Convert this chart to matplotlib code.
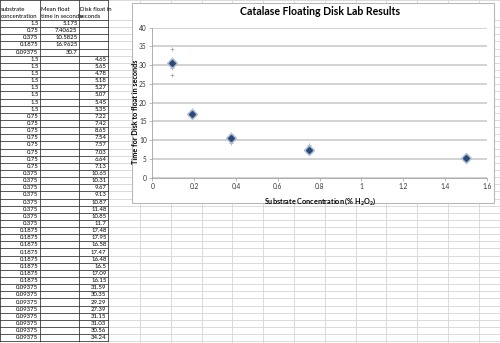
import numpy as np
import matplotlib.pyplot as plt
from matplotlib.patches import Rectangle

plt.rcParams['font.family'] = ['Lato', 'DejaVu Sans']
plt.rcParams['mathtext.default'] = 'regular'

# spreadsheet data
conc_levels = [1.5, 0.75, 0.375, 0.1875, 0.09375]
mean_times = [5.175, 7.40625, 10.5825, 16.9625, 30.7]
mean_labels = ['5.175', '7.40625', '10.5825', '16.9625', '30.7']

disk_conc = [1.5] * 8 + [0.75] * 8 + [0.375] * 8 + [0.1875] * 8 + [0.09375] * 8
disk_times = [4.65, 5.65, 4.78, 5.18, 5.27, 5.07, 5.45, 5.35,
              7.22, 7.42, 8.65, 7.54, 7.57, 7.03, 6.64, 7.13,
              10.65, 10.31, 9.67, 9.13, 10.87, 11.48, 10.85, 11.7,
              17.48, 17.95, 16.58, 17.47, 16.48, 16.5, 17.09, 16.15,
              31.59, 30.35, 29.29, 27.39, 31.15, 31.03, 30.56, 34.24]
headers = [['substrate', 'concentration'],
           ['Mean float', 'time in seconds'],
           ['Disk float in', 'seconds']]

W, H = 500, 343
fig = plt.figure(figsize=(W / 100, H / 100), dpi=100)

# ---- spreadsheet background (pixel coords)
bg = fig.add_axes([0, 0, 1, 1], zorder=0)
bg.set_xlim(0, W)
bg.set_ylim(H, 0)
bg.axis('off')

col_edges = [0, 40, 79, 108] + list(np.arange(140, W + 31, 30.8))
row_h = 7.14
head_h = 20
n_rows = len(conc_levels) + len(disk_times)
row_edges = [0, head_h] + [head_h + row_h * (k + 1) for k in range(n_rows)]

grid_col = '#d4d4d4'
for y in row_edges:
    bg.plot([0, W], [y, y], color=grid_col, lw=0.6)
for x in col_edges:
    bg.plot([x, x], [0, H], color=grid_col, lw=0.6)

# dark borders round the filled cells
tbl_right = col_edges[3]
for y in row_edges:
    bg.plot([0, tbl_right], [y, y], color='#222222', lw=0.5)
for x in col_edges[:4]:
    bg.plot([x, x], [0, row_edges[-1]], color='#222222', lw=0.5)

fs = 4.3
for j, lines in enumerate(headers):
    bg.text(col_edges[j] + 1, 9.5, lines[0], fontsize=fs, va='center', ha='left')
    bg.text(col_edges[j] + 1, 16, lines[1], fontsize=fs, va='center', ha='left')

def cell_y(i):
    return head_h + row_h * i + row_h / 2

for i, (c, m) in enumerate(zip(conc_levels, mean_labels)):
    bg.text(col_edges[1] - 1.5, cell_y(i), f'{c:g}', fontsize=fs, va='center', ha='right')
    bg.text(col_edges[2] - 1.5, cell_y(i), m, fontsize=fs, va='center', ha='right')
for k, (c, t) in enumerate(zip(disk_conc, disk_times)):
    i = k + len(conc_levels)
    bg.text(col_edges[1] - 1.5, cell_y(i), f'{c:g}', fontsize=fs, va='center', ha='right')
    bg.text(col_edges[3] - 1.5, cell_y(i), f'{t:g}', fontsize=fs, va='center', ha='right')

# ---- chart box
box = Rectangle((132 / W, 1 - 203 / H), 362 / W, 200 / H, transform=fig.transFigure,
                facecolor='white', edgecolor='#b8b8b8', lw=0.8, zorder=1)
fig.patches.append(box)

ax = fig.add_axes([152.3 / W, 1 - 177.7 / H, (487 - 152.3) / W, (177.7 - 27.7) / H], zorder=2)
ax.set_facecolor('none')
ax.scatter(disk_conc, disk_times, marker='+', s=5, lw=0.6, color='#a3adbd', zorder=3)
ax.plot(conc_levels, mean_times, ls='none', marker='D', ms=4.6, color='#aebdd4', zorder=4)
ax.plot(conc_levels, mean_times, ls='none', marker='D', ms=3.0, color='#2b4a78', zorder=5)

ax.set_xlim(0, 1.6)
ax.set_ylim(0, 40)
ax.set_xticks(np.arange(0, 1.61, 0.2))
ax.set_xticklabels(['0', '0.2', '0.4', '0.6', '0.8', '1', '1.2', '1.4', '1.6'])
ax.set_yticks(range(0, 41, 5))
ax.yaxis.grid(True, color='#cfcfcf', lw=1.3)
ax.set_axisbelow(True)
for s in ['top', 'right']:
    ax.spines[s].set_visible(False)
for s in ['left', 'bottom']:
    ax.spines[s].set_color('#a0a0a0')
    ax.spines[s].set_linewidth(0.6)
ax.tick_params(labelsize=4.8, length=2, width=0.5, color='#a0a0a0', pad=2, labelcolor='#333333')

ax.set_title('Catalase Floating Disk Lab Results', fontsize=7.6, fontweight='bold', pad=9)
ax.set_xlabel('Substrate Concentration (% H$_2$O$_2$)', fontsize=5.2, fontweight='bold', labelpad=4)
ax.set_ylabel('Time for Disk to float in seconds', fontsize=5.2, fontweight='bold')
ax.yaxis.set_label_coords(-0.04, 0.44)

fig.savefig('out.png', dpi=100)
